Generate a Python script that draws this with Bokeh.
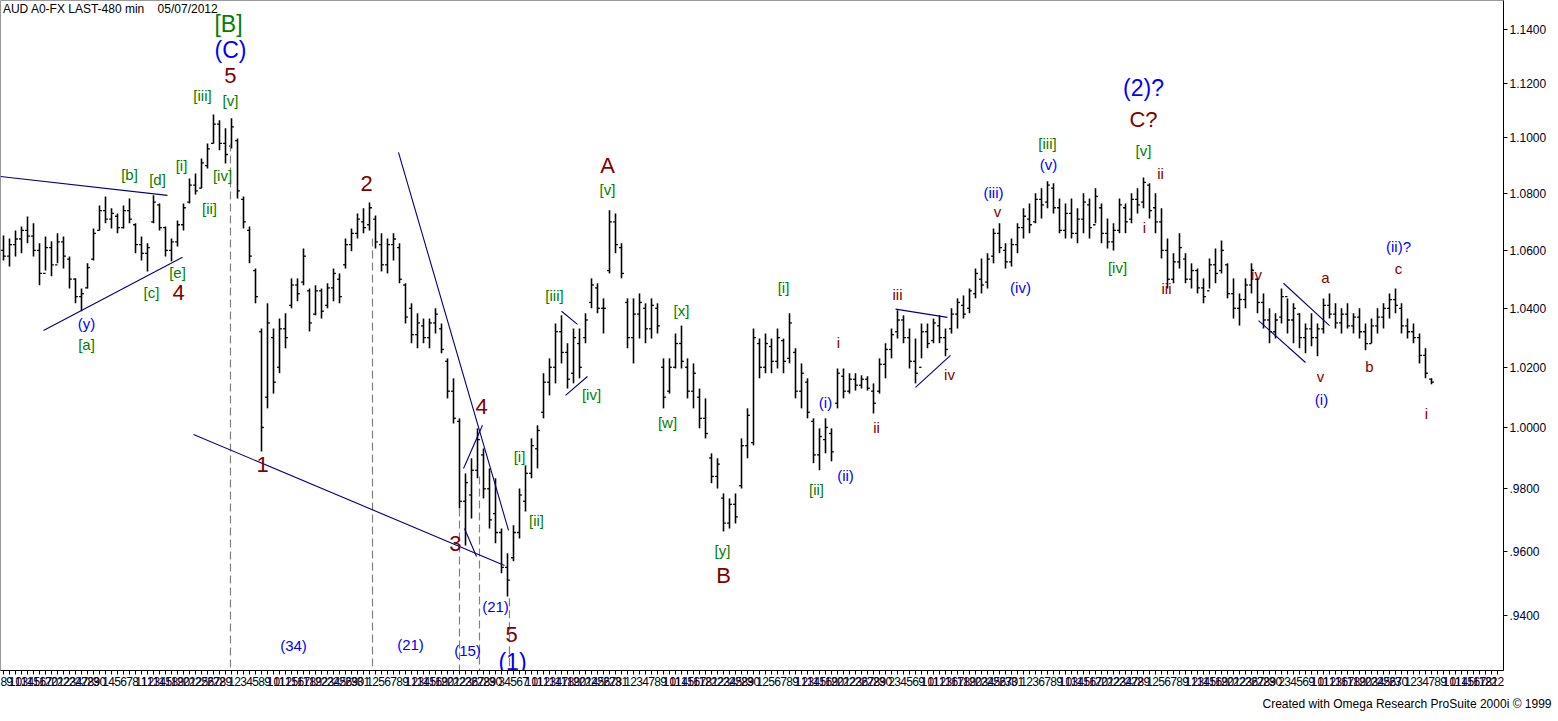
import pandas as pd
from bokeh.plotting import figure
from bokeh.models import (ColumnDataSource, Range1d, FixedTicker,
                          CustomJSTickFormatter, Title, Label)
from bokeh.embed import file_html
from bokeh.resources import INLINE
from bokeh.core.properties import value

title_text = "AUD A0-FX LAST-480 min\u00a0\u00a0\u00a0\u00a005/07/2012"
credit_text = "Created with Omega Research ProSuite 2000i \u00a9 1999"

# ---------------- price bars (one bar per session) ----
highs = [1.0652,1.0642,1.0670,1.0684,1.0719,1.0695,1.0625,1.0649,1.0632,1.0660,
         1.0649,1.0579,1.0503,1.0468,1.0555,1.0677,1.0758,1.0790,1.0748,1.0730,
         1.0758,1.0783,1.0695,1.0649,1.0625,1.0794,1.0765,1.0684,1.0642,1.0705,
         1.0765,1.0854,1.0872,1.0926,1.0980,1.1085,1.1064,1.1035,1.1071,1.0998,
         1.0790,1.0684,1.0537,1.0331,1.0417,1.0331,1.0365,1.0383,1.0503,1.0503,
         1.0607,1.0468,1.0479,1.0468,1.0486,1.0537,1.0520,1.0642,1.0677,1.0730,
         1.0748,1.0769,1.0723,1.0660,1.0642,1.0660,1.0625,1.0486,1.0417,1.0383,
         1.0365,1.0365,1.0400,1.0348,1.0230,1.0163,1.0030,0.9850,0.9899,0.9997,
         0.9931,0.9866,0.9834,0.9673,0.9594,0.9683,0.9801,0.9876,0.9964,1.0007,
         1.0180,1.0230,1.0348,1.0376,1.0281,1.0331,1.0331,1.0383,1.0503,1.0486,
         1.0434,1.0741,1.0730,1.0625,1.0434,1.0434,1.0451,1.0417,1.0434,1.0417,
         1.0230,1.0230,1.0314,1.0341,1.0230,1.0213,1.0129,1.0096,0.9915,0.9899,
         0.9785,0.9769,0.9785,0.9964,1.0063,1.0331,1.0297,1.0314,1.0297,1.0331,
         1.0297,1.0383,1.0264,1.0213,1.0163,1.0030,0.9997,1.0030,0.9997,1.0196,
         1.0196,1.0180,1.0180,1.0173,1.0170,1.0146,1.0230,1.0281,1.0331,1.0393,
         1.0376,1.0331,1.0297,1.0348,1.0348,1.0365,1.0376,1.0331,1.0400,1.0434,
         1.0444,1.0468,1.0537,1.0572,1.0590,1.0677,1.0695,1.0625,1.0642,1.0695,
         1.0748,1.0765,1.0801,1.0819,1.0844,1.0837,1.0783,1.0765,1.0783,1.0748,
         1.0801,1.0783,1.0819,1.0765,1.0712,1.0695,1.0783,1.0765,1.0801,1.0819,
         1.0858,1.0837,1.0801,1.0748,1.0642,1.0590,1.0660,1.0590,1.0555,1.0537,
         1.0503,1.0572,1.0607,1.0635,1.0555,1.0503,1.0451,1.0503,1.0555,1.0503,
         1.0451,1.0400,1.0383,1.0468,1.0434,1.0417,1.0383,1.0348,1.0383,1.0348,
         1.0434,1.0451,1.0417,1.0400,1.0417,1.0383,1.0400,1.0348,1.0365,1.0400,
         1.0417,1.0451,1.0468,1.0417,1.0365,1.0348,1.0314,1.0264,1.0163]

lows = [1.0565,1.0544,1.0579,1.0590,1.0625,1.0579,1.0479,1.0530,1.0510,1.0555,
        1.0537,1.0468,1.0417,1.0390,1.0468,1.0565,1.0670,1.0695,1.0677,1.0660,
        1.0677,1.0695,1.0590,1.0565,1.0527,1.0695,1.0670,1.0579,1.0562,1.0614,
        1.0670,1.0765,1.0797,1.0819,1.0890,1.0980,1.0955,1.0908,1.0962,1.0783,
        1.0677,1.0555,1.0417,0.9921,1.0063,1.0112,1.0180,1.0264,1.0400,1.0424,
        1.0479,1.0321,1.0376,1.0365,1.0400,1.0424,1.0417,1.0537,1.0597,1.0642,
        1.0660,1.0670,1.0607,1.0527,1.0520,1.0565,1.0486,1.0348,1.0281,1.0264,
        1.0281,1.0264,1.0314,1.0247,1.0096,1.0013,0.9737,0.9619,0.9705,0.9834,
        0.9769,0.9673,0.9626,0.9531,0.9459,0.9569,0.9641,0.9727,0.9834,0.9866,
        1.0030,1.0106,1.0146,1.0213,1.0129,1.0146,1.0163,1.0281,1.0400,1.0383,
        1.0314,1.0520,1.0590,1.0503,1.0264,1.0213,1.0297,1.0281,1.0297,1.0314,
        1.0063,1.0112,1.0196,1.0196,1.0096,1.0063,0.9997,0.9964,0.9818,0.9801,
        0.9663,0.9673,0.9689,0.9801,0.9899,0.9941,1.0163,1.0180,1.0180,1.0196,
        1.0180,1.0213,1.0096,1.0063,1.0030,0.9883,0.9860,0.9915,0.9889,1.0063,
        1.0096,1.0112,1.0122,1.0129,1.0122,1.0046,1.0112,1.0163,1.0230,1.0297,
        1.0281,1.0196,1.0146,1.0230,1.0264,1.0281,1.0281,1.0237,1.0314,1.0331,
        1.0365,1.0383,1.0434,1.0451,1.0468,1.0555,1.0590,1.0537,1.0544,1.0590,
        1.0642,1.0660,1.0695,1.0712,1.0748,1.0730,1.0660,1.0642,1.0642,1.0625,
        1.0660,1.0642,1.0695,1.0625,1.0607,1.0600,1.0660,1.0660,1.0695,1.0730,
        1.0748,1.0712,1.0660,1.0572,1.0468,1.0486,1.0537,1.0486,1.0468,1.0451,
        1.0417,1.0468,1.0486,1.0520,1.0434,1.0365,1.0341,1.0400,1.0451,1.0383,
        1.0331,1.0281,1.0297,1.0348,1.0314,1.0281,1.0264,1.0247,1.0271,1.0237,
        1.0314,1.0365,1.0331,1.0314,1.0331,1.0314,1.0297,1.0257,1.0281,1.0314,
        1.0331,1.0365,1.0383,1.0314,1.0297,1.0281,1.0213,1.0163,1.0143]

opens = [1.060,1.058,1.062,1.064,1.067,1.065,1.060,1.052,1.061,1.055,
         1.063,1.057,1.050,1.044,1.047,1.057,1.067,1.074,1.071,1.072,
         1.068,1.074,1.069,1.062,1.059,1.070,1.076,1.068,1.060,1.063,
         1.069,1.077,1.083,1.082,1.090,1.098,1.105,1.098,1.097,1.099,
         1.078,1.067,1.053,1.032,1.010,1.030,1.020,1.033,1.041,1.048,
         1.049,1.046,1.038,1.046,1.041,1.047,1.050,1.055,1.062,1.066,
         1.070,1.069,1.071,1.062,1.055,1.062,1.061,1.048,1.040,1.031,
         1.034,1.030,1.035,1.033,1.022,1.012,1.002,0.976,0.978,0.986,
         0.991,0.980,0.972,0.966,0.955,0.958,0.966,0.976,0.985,0.993,
         1.005,1.015,1.020,1.032,1.025,1.018,1.028,1.030,1.042,1.047,
         1.040,1.053,1.070,1.061,1.042,1.030,1.038,1.040,1.033,1.040,
         1.020,1.012,1.020,1.028,1.020,1.012,1.010,1.003,0.990,0.984,
         0.977,0.969,0.975,0.981,0.994,0.995,1.028,1.020,1.027,1.022,
         1.029,1.023,1.025,1.012,1.015,1.002,0.991,0.996,0.998,1.008,
         1.017,1.012,1.016,1.014,1.016,1.012,1.012,1.021,1.026,1.032,
         1.036,1.030,1.022,1.020,1.032,1.029,1.034,1.030,1.033,1.038,
         1.041,1.040,1.045,1.050,1.049,1.058,1.066,1.060,1.056,1.062,
         1.068,1.071,1.070,1.078,1.077,1.082,1.075,1.067,1.073,1.066,
         1.071,1.076,1.069,1.075,1.066,1.063,1.067,1.075,1.071,1.078,
         1.077,1.083,1.075,1.070,1.060,1.050,1.056,1.057,1.050,1.053,
         1.047,1.046,1.055,1.053,1.055,1.045,1.040,1.043,1.048,1.050,
         1.042,1.036,1.032,1.037,1.044,1.036,1.038,1.030,1.033,1.030,
         1.033,1.041,1.038,1.035,1.038,1.034,1.037,1.032,1.028,1.034,
         1.037,1.040,1.043,1.040,1.034,1.032,1.030,1.024,1.016]

closes = [1.058,1.062,1.064,1.067,1.065,1.060,1.052,1.061,1.055,1.063,
          1.058,1.050,1.044,1.045,1.054,1.066,1.074,1.071,1.073,1.068,
          1.074,1.071,1.062,1.059,1.061,1.077,1.068,1.060,1.063,1.069,
          1.075,1.083,1.081,1.091,1.096,1.105,1.098,1.094,1.104,1.081,
          1.070,1.058,1.044,1.000,1.035,1.015,1.033,1.030,1.048,1.045,
          1.058,1.035,1.046,1.039,1.047,1.052,1.044,1.062,1.066,1.071,
          1.068,1.075,1.063,1.055,1.062,1.064,1.050,1.037,1.031,1.035,
          1.030,1.035,1.038,1.026,1.012,1.003,0.976,0.982,0.986,0.996,
          0.980,0.970,0.966,0.955,0.951,0.966,0.978,0.985,0.994,0.999,
          1.015,1.020,1.032,1.025,1.016,1.030,1.020,1.036,1.048,1.040,
          1.040,1.070,1.062,1.052,1.030,1.038,1.042,1.033,1.041,1.034,
          1.010,1.020,1.028,1.022,1.012,1.018,1.003,0.998,0.984,0.988,
          0.969,0.975,0.971,0.994,1.004,1.030,1.020,1.028,1.022,1.030,
          1.022,1.035,1.012,1.018,1.005,0.991,0.997,1.000,0.992,1.018,
          1.012,1.016,1.014,1.016,1.013,1.008,1.021,1.026,1.031,1.036,
          1.030,1.022,1.018,1.032,1.028,1.035,1.030,1.026,1.038,1.042,
          1.038,1.046,1.052,1.048,1.057,1.066,1.061,1.056,1.062,1.068,
          1.072,1.069,1.078,1.076,1.083,1.075,1.067,1.073,1.066,1.071,
          1.077,1.068,1.079,1.066,1.063,1.067,1.076,1.070,1.078,1.076,
          1.084,1.074,1.070,1.060,1.050,1.056,1.061,1.050,1.053,1.047,
          1.044,1.055,1.052,1.060,1.045,1.040,1.043,1.048,1.053,1.042,
          1.036,1.032,1.036,1.044,1.036,1.040,1.030,1.033,1.030,1.033,
          1.041,1.038,1.035,1.038,1.034,1.037,1.032,1.028,1.034,1.037,
          1.040,1.043,1.041,1.034,1.032,1.030,1.024,1.018,1.015]

N = len(highs)
bar_index = list(range(N))
# session dates: the charted sessions plus the empty sessions after the last bar
past_dates = pd.bdate_range(end="2012-05-07", periods=N)
future_dates = pd.bdate_range(start="2012-05-08", periods=11)
day_labels = [str(d.day) for d in past_dates] + [str(d.day) for d in future_dates]
tick_index = list(range(len(day_labels)))

y_ticks = [0.94, 0.96, 0.98, 1.00, 1.02, 1.04, 1.06, 1.08, 1.10, 1.12, 1.14]

# ---------------- Elliott-wave annotations (bar position, price) -------------
label_text = ["[B]", "(C)", "5", "[iii]", "[v]", "[i]", "[b]", "[d]", "[iv]", "[ii]",
              "[e]", "[c]", "4", "(y)", "[a]", "2", "1", "A", "[v]", "[iii]",
              "[iv]", "[i]", "[ii]", "4", "3", "(21)", "5", "(1)", "(34)", "(21)",
              "(15)", "[x]", "[w]", "[y]", "B", "[i]", "i", "(i)", "ii", "[ii]",
              "(ii)", "iii", "iv", "(iii)", "v", "(iv)", "[iii]", "(v)", "(2)?", "C?",
              "[v]", "ii", "i", "[iv]", "iii", "iv", "a", "v", "(i)", "b",
              "(ii)?", "c", "i"]
label_bar = [37.5, 37.83, 37.83, 33.17, 37.83, 29.67, 21.0, 25.67, 36.5, 34.33,
             29.0, 24.67, 29.17, 13.83, 13.83, 60.5, 43.17, 100.67, 100.67, 91.83,
             98.0, 86.0, 88.83, 79.67, 75.33, 82.0, 84.67, 84.83, 48.33, 67.83,
             77.33, 113.0, 110.67, 119.83, 120.0, 130.0, 139.17, 137.0, 145.5, 135.5,
             140.33, 149.0, 157.67, 165.0, 165.67, 169.5, 174.0, 174.17, 190.0, 190.0,
             190.0, 192.83, 190.17, 185.67, 193.83, 208.83, 220.33, 219.5, 219.67, 227.67,
             232.5, 232.5, 237.17]
label_price = [1.1419, 1.1322, 1.1229, 1.1155, 1.1137, 1.0901, 1.0868, 1.0851, 1.0865, 1.0748,
               1.0523, 1.0455, 1.0455, 1.0348, 1.0277, 1.0837, 0.9879, 1.0901, 1.0815, 1.0444,
               1.0109, 0.9905, 0.9699, 1.0069, 0.9625, 0.9428, 0.9341, 0.9256, 0.9308, 0.9311,
               0.9292, 1.0393, 1.0017, 0.9604, 0.9525, 1.0472, 1.0284, 1.0083, 1.0000, 0.9798,
               0.9844, 1.0448, 1.0176, 1.0804, 1.0737, 1.0472, 1.0980, 1.0904, 1.1184, 1.1067,
               1.0955, 1.0872, 1.0680, 1.0541, 1.0468, 1.0516, 1.0506, 1.0169, 1.0093, 1.0203,
               1.0614, 1.0537, 1.0046]
label_kind = ["GL", "BL", "RL", "G", "G", "G", "G", "G", "G", "G",
              "G", "G", "RL", "B", "G", "RL", "RL", "RL", "G", "G",
              "G", "G", "G", "RL", "RL", "B", "RL", "BL", "B", "B",
              "B", "G", "G", "G", "RL", "G", "R", "B", "R", "G",
              "B", "R", "R", "B", "R", "B", "G", "B", "BL", "RL",
              "G", "R", "R", "G", "R", "R", "R", "R", "B", "R",
              "B", "R", "R"]

# trend / channel lines: start bar, start price, end bar, end price
trend_bar0 = [-0.5, 6.67, 31.67, 65.83, 76.67, 76.83, 93.0, 93.67, 148.67, 152.0, 213.33, 209.17]
trend_p0 = [1.0861, 1.0324, 0.9977, 1.0948, 0.9866, 0.9673, 1.0390, 1.0106, 1.0397, 1.0133, 1.0486, 1.0358]
trend_bar1 = [27.33, 29.83, 83.5, 84.17, 79.83, 78.83, 95.67, 97.33, 157.33, 157.83, 221.0, 217.0]
trend_p1 = [1.0794, 1.0576, 0.9556, 0.9667, 1.0007, 0.9584, 1.0345, 1.0169, 1.0369, 1.0240, 1.0341, 1.0216]

# dashed wave-count markers: bar position, top price
marker_bar = [37.83, 61.5, 76.0, 79.33, 84.33]
marker_top = [1.0980, 1.0642, 0.9737, 0.9840, 0.9453]

# ---------------- styles --------------------------------------------------------
STYLE = {"GL": ("#008000", "23px"), "BL": ("#0000FF", "23px"), "RL": ("#800000", "22px"),
         "G": ("#008000", "15px"), "B": ("#0000FF", "15px"), "R": ("#800000", "15px")}
FONT = "Liberation Sans"

Y_LO, Y_HI = 0.9231, 1.1509
p = figure(frame_width=1503, frame_height=670, y_axis_type="log",
           y_axis_location="right", x_range=Range1d(-0.5, 250.0),
           y_range=Range1d(Y_LO, Y_HI), output_backend="svg",
           toolbar_location=None, min_border_left=0, min_border_top=0,
           min_border_right=50, min_border_bottom=0,
           background_fill_color="white", border_fill_color="white")
p.outline_line_color = "#9a9a9a"
p.xgrid.visible = False
p.ygrid.visible = False

# OHLC bars
bars = ColumnDataSource(dict(x=bar_index, h=highs, l=lows, o=opens, c=closes,
                             xl=[i - 0.4 for i in bar_index],
                             xr=[i + 0.4 for i in bar_index]))
p.segment(x0="x", y0="l", x1="x", y1="h", source=bars, line_color="black", line_width=1.6)
p.segment(x0="xl", y0="o", x1="x", y1="o", source=bars, line_color="black", line_width=1.3)
p.segment(x0="x", y0="c", x1="xr", y1="c", source=bars, line_color="black", line_width=1.3)

# dashed vertical markers
p.segment(x0=marker_bar, y0=marker_top, x1=marker_bar, y1=[Y_LO] * len(marker_bar),
          line_color="#808080", line_width=1.2, line_dash="8 4")

# trend lines
p.segment(x0=trend_bar0, y0=trend_p0, x1=trend_bar1, y1=trend_p1,
          line_color="#000080", line_width=1.1)

# wave labels
lab = ColumnDataSource(dict(x=label_bar, y=label_price, text=label_text,
                            color=[STYLE[k][0] for k in label_kind],
                            size=[STYLE[k][1] for k in label_kind]))
p.text(x="x", y="y", text="text", source=lab, text_color="color",
       text_font_size="size", text_font=value(FONT),
       text_align="center", text_baseline="middle")

# chart title inside the frame
p.add_layout(Label(x=-0.1, y=1.1478, text=title_text, text_font=FONT,
                   text_font_size="12px", text_color="black",
                   text_baseline="middle", text_align="left"))

# axes
p.yaxis.ticker = FixedTicker(ticks=y_ticks, minor_ticks=[])
p.yaxis.formatter = CustomJSTickFormatter(
    code="var s = tick.toFixed(4); return s.charAt(0) === '0' ? s.slice(1) : s;")
p.yaxis.major_label_text_font = FONT
p.yaxis.major_label_text_font_size = "12px"
p.yaxis.major_label_text_color = "#000020"
p.yaxis.major_tick_out = 4
p.yaxis.major_tick_in = 0
p.yaxis.minor_tick_out = 0
p.yaxis.minor_tick_in = 0
p.yaxis.major_label_standoff = 2
p.yaxis.axis_line_color = "black"

p.xaxis.ticker = FixedTicker(ticks=tick_index, minor_ticks=[])
p.xaxis.formatter = CustomJSTickFormatter(
    args=dict(labels=day_labels),
    code="var i = Math.round(tick); return (labels[i] !== undefined) ? labels[i] : '';")
p.xaxis.major_label_text_font = FONT
p.xaxis.major_label_text_font_size = "12px"
p.xaxis.major_label_text_color = "#000020"
p.xaxis.major_tick_out = 4
p.xaxis.major_tick_in = 0
p.xaxis.minor_tick_out = 0
p.xaxis.major_label_standoff = 2
p.xaxis.axis_line_color = "black"

p.add_layout(Title(text=credit_text, align="right", text_font=FONT,
                   text_font_size="12px", text_font_style="normal",
                   text_color="black", offset=-48, standoff=12), "below")

open("out.html", "w").write(file_html(p, INLINE))
